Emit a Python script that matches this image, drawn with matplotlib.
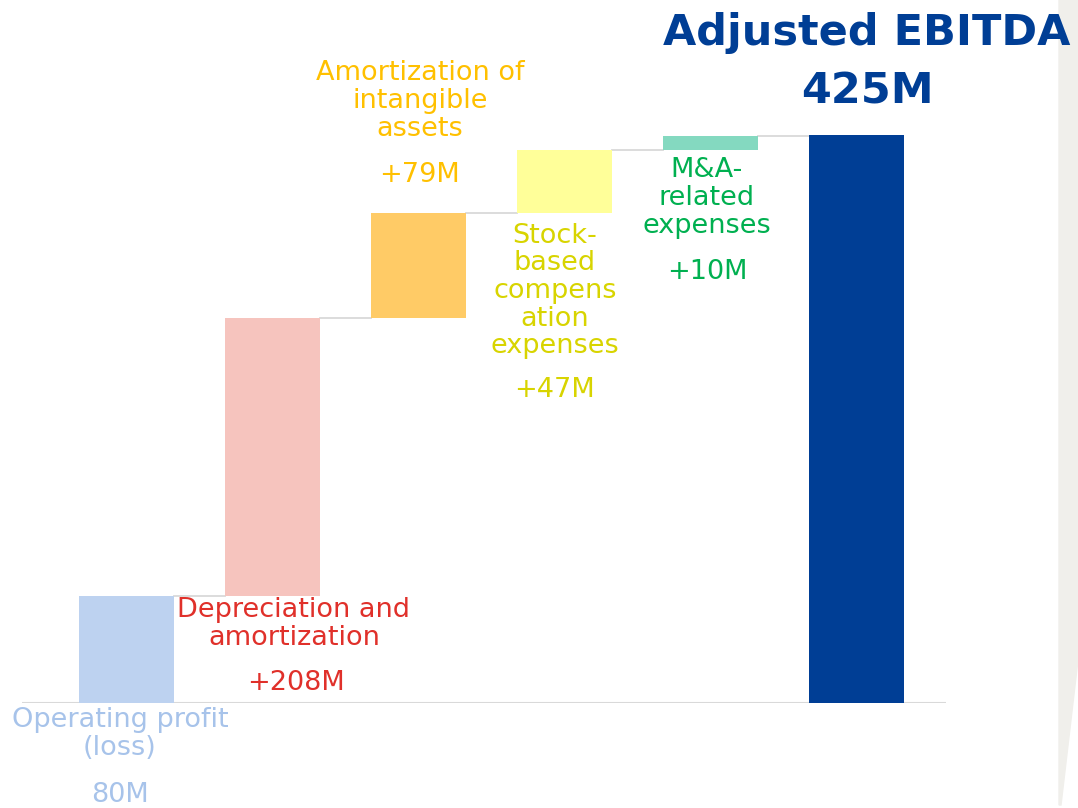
import numpy as np
import matplotlib.pyplot as plt
from matplotlib.patches import Polygon

# waterfall steps (millions)
labels = ["Operating profit\n(loss)", "Depreciation and\namortization",
          "Amortization of\nintangible\nassets",
          "Stock-\nbased\ncompens\nation\nexpenses",
          "M&A-\nrelated\nexpenses"]
value_text = ["80M", "+208M", "+79M", "+47M", "+10M"]
steps = [80, 208, 79, 47, 10]
total = 425
total_title = "Adjusted EBITDA"
total_text = "425M"

bar_colors = ["#BDD2F0", "#F6C4BE", "#FFCB66", "#FFFF99", "#84D9C0"]
text_colors = ["#A7C3EA", "#E0302A", "#FFC000", "#D8D400", "#00B050"]
total_color = "#003E95"

W, H = 1078, 808
fig = plt.figure(figsize=(W / 100, H / 100), dpi=100)

# axes spans pixel x 22..946, y 0..703 (baseline at 703)
ax = fig.add_axes([22 / W, (H - 703) / H, (946 - 22) / W, 703 / H])
px_per_unit = 1.3365
x0_px, dx_px = 126.5, 146.0
ax.set_xlim((22 - x0_px) / dx_px, (946 - x0_px) / dx_px)
ax.set_ylim(0, 703 / px_per_unit)
ax.axis("off")


def to_data(xp, yp):
    return (xp - x0_px) / dx_px, (703 - yp) / px_per_unit


bottoms = np.concatenate([[0], np.cumsum(steps)[:-1]])
tops = bottoms + np.array(steps)
width = 0.655
xs = np.arange(len(steps))
ax.bar(xs, steps, bottom=bottoms, width=width, color=bar_colors, zorder=2)
ax.bar(len(steps), total, width=width, color=total_color, zorder=2)

# connector lines between bars
for i in range(len(steps)):
    ax.plot([i + width / 2, i + 1 - width / 2], [tops[i], tops[i]],
            color="#D9D9D9", lw=1.3, zorder=1)

# baseline
ax.axhline(0, color="#D9D9D9", lw=2.2, zorder=1)

# label positions (pixel centers of label block / value line)
label_pos = [(120, 734), (294, 624), (420, 101), (555, 291), (707, 198)]
value_pos = [(120, 795), (296, 683), (420, 175), (555, 390), (707, 272)]
for i in range(len(steps)):
    lx, ly = to_data(*label_pos[i])
    ax.text(lx, ly, labels[i], ha="center", va="center", fontsize=19.5,
            color=text_colors[i], linespacing=1.08, clip_on=False)
    vx, vy = to_data(*value_pos[i])
    ax.text(vx, vy, value_text[i], ha="center", va="center", fontsize=19.5,
            color=text_colors[i], clip_on=False)

tx, ty = to_data(867, 33)
ax.text(tx, ty, total_title, ha="center", va="center", fontsize=31,
        fontweight="bold", color=total_color, clip_on=False)
tx, ty = to_data(867, 91)
ax.text(tx, ty, total_text, ha="center", va="center", fontsize=31,
        fontweight="bold", color=total_color, clip_on=False)

# page edge on the right, kept behind everything
edge = Polygon([(1059 / W, 1), (1078 / W, 1), (1078 / W, 1 - 660 / H),
                (1061 / W, 1 - 805 / H), (1059 / W, 1 - 805 / H)],
               closed=True, transform=fig.transFigure, color="#F0EFEB", zorder=-1)
fig.patches.append(edge)

fig.savefig("out.png", dpi=100)
